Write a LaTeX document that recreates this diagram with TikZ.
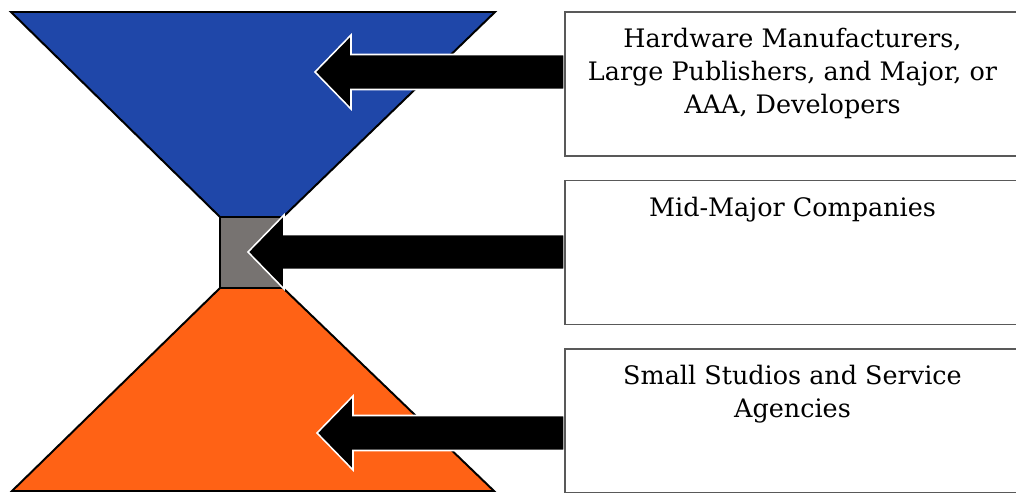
\documentclass[tikz,border=0pt]{standalone}
\usepackage{fontspec}
\setmainfont{DejaVu Serif}
\usetikzlibrary{calc,positioning}
\definecolor{topblue}{RGB}{31,71,169}
\definecolor{neckgray}{RGB}{119,115,113}
\definecolor{baseorange}{RGB}{255,98,21}
\definecolor{boxline}{RGB}{89,89,89}

\newcommand{\pusharrow}[2]{%
 \filldraw[pusharr] let \p1=(#1), \p2=(#2.west) in
  (#1) -- ++(36,-37) -- ++(0,19.5) -- ($(\x2,\y1)+(0,-17.5)$)
  -- ($(\x2,\y1)+(0,17.5)$) -- ($(#1)+(36,17.5)$) -- ++(0,19.5) -- cycle;}

\begin{document}
\begin{tikzpicture}[x=.025cm,y=-.025cm,
 tier/.style={draw=boxline,line width=1pt,minimum width=11.375cm,minimum height=3.6cm,inner sep=0pt},
 tiertext/.style={align=center,inner sep=0pt,font=\fontsize{18.1}{23.5}\selectfont},
 pusharr/.style={fill=black,draw=white,line width=1.1pt,line join=miter},
 funnel/.style={draw=black,line width=1.4pt,line join=miter}]
\useasboundingbox (0,0) rectangle (1016,492);
\filldraw[funnel,fill=topblue] (11,12) -- (495,12) -- (283,217) -- (220,217) -- cycle;
\filldraw[funnel,fill=baseorange] (220,288) -- (283,288) -- (494,491) -- (12,491) -- cycle;
\filldraw[funnel,fill=neckgray] (220,217) rectangle (283,288);
\node[tier] (big) at (792.5,84) {};
\node[tier] (mid) at (792.5,252.5) {};
\node[tier] (small) at (792.5,421) {};
\coordinate (tipbig) at (315,72);
\coordinate (tipmid) at (248,252);
\coordinate (tipsmall) at (317,433);
\pusharrow{tipbig}{big}
\pusharrow{tipmid}{mid}
\pusharrow{tipsmall}{small}
\node[tier] at (big) {};
\node[tier] at (mid) {};
\node[tier] at (small) {};
\node[tiertext,below=12pt of big.north] (bigtext) {Hardware Manufacturers,\\Large Publishers, and Major, or\\AAA, Developers};
\node[tiertext,below=12pt of mid.north] (midtext) {Mid-Major Companies};
\node[tiertext,below=12pt of small.north] (smalltext) {Small Studios and Service\\Agencies};
\end{tikzpicture}
\end{document}
